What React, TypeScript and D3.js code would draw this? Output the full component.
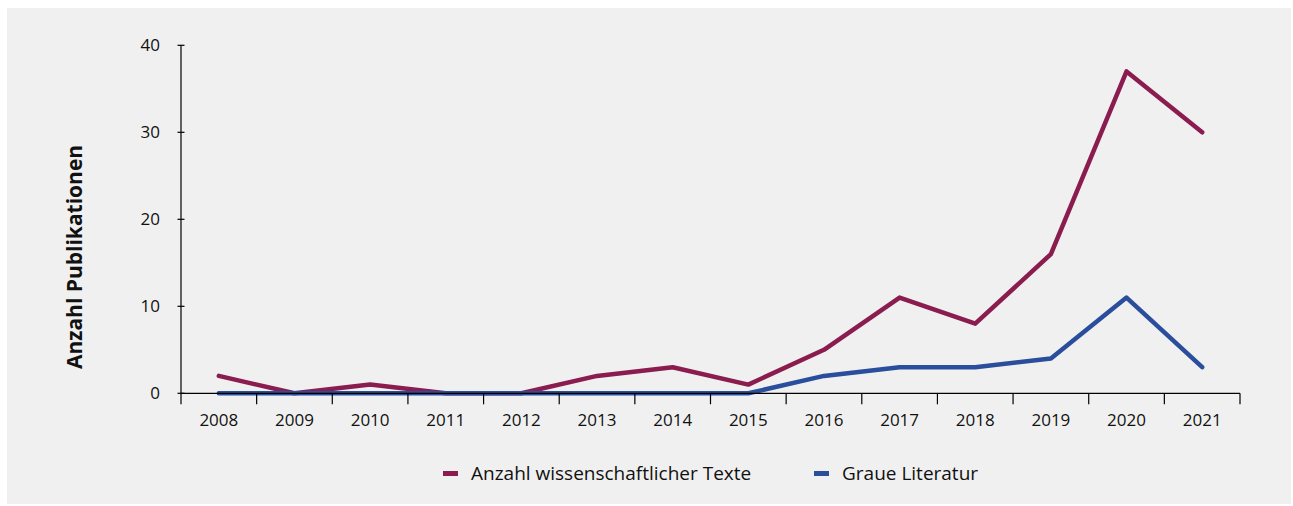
import React from "react";
import * as d3 from "d3";

const years = ["2008","2009","2010","2011","2012","2013","2014","2015","2016","2017","2018","2019","2020","2021"];
const wissenschaftlich = [2,0,1,0,0,2,3,1,5,11,8,16,37,30];
const graueLiteratur = [0,0,0,0,0,0,0,0,2,3,3,4,11,3];
const yTicks = [0,10,20,30,40];
const seriesNames = ["Anzahl wissenschaftlicher Texte","Graue Literatur"];
const colors = ["#8a1c4f","#2a4d9c"];

const W = 1293, H = 506;
const FONT = "'Open Sans', sans-serif";

export default function App() {
  const x = d3.scaleBand<string>().domain(years).range([181, 1240]);
  const y = d3.scaleLinear().domain([0, 40]).range([393.3, 45.3]);
  const line = d3.line<number>()
    .x((_, i) => (x(years[i]) as number) + x.bandwidth() / 2)
    .y(d => y(d));
  const series = [wissenschaftlich, graueLiteratur];
  const legendX = [443, 814];
  return (
    <svg width={W} height={H} style={{position:"absolute",left:0,top:0,background:"#fff"}} fontFamily={FONT}>
      <rect x={7} y={8} width={1284} height={496} fill="#f0f0f0" />
      {/* y axis */}
      <line x1={181} x2={181} y1={y(40)} y2={y(0)} stroke="#000" strokeWidth={1.2} />
      {yTicks.map(t => (
        <g key={t}>
          <line x1={177.5} x2={184.5} y1={y(t)} y2={y(t)} stroke="#000" strokeWidth={1.2} />
          <text x={160} y={y(t)} dy="0.35em" textAnchor="end" fontSize={17} fill="#111">{t}</text>
        </g>
      ))}
      <text transform={`translate(82,257) rotate(-90)`} textAnchor="middle" fontSize={21} fontWeight="bold" fill="#111">Anzahl Publikationen</text>
      {/* lines */}
      {series.map((s, k) => (
        <path key={k} d={line(s) as string} fill="none" stroke={colors[k]} strokeWidth={4.5} strokeLinejoin="round" strokeLinecap="round" />
      ))}
      {/* x axis */}
      <line x1={181} x2={1240} y1={y(0)} y2={y(0)} stroke="#000" strokeWidth={1.2} />
      {years.map((yr, i) => (
        <line key={"t"+yr} x1={x(yr) as number} x2={x(yr) as number} y1={y(0)} y2={y(0) + 11} stroke="#000" strokeWidth={1.2} />
      ))}
      <line x1={1240} x2={1240} y1={y(0)} y2={y(0) + 11} stroke="#000" strokeWidth={1.2} />
      {years.map(yr => (
        <text key={yr} x={(x(yr) as number) + x.bandwidth() / 2} y={426} textAnchor="middle" fontSize={17} fill="#111">{yr}</text>
      ))}
      {/* legend */}
      {seriesNames.map((n, k) => (
        <g key={n}>
          <rect x={legendX[k]} y={471} width={15} height={5} fill={colors[k]} />
          <text x={legendX[k] + 28} y={480} fontSize={19} fill="#111">{n}</text>
        </g>
      ))}
    </svg>
  );
}
